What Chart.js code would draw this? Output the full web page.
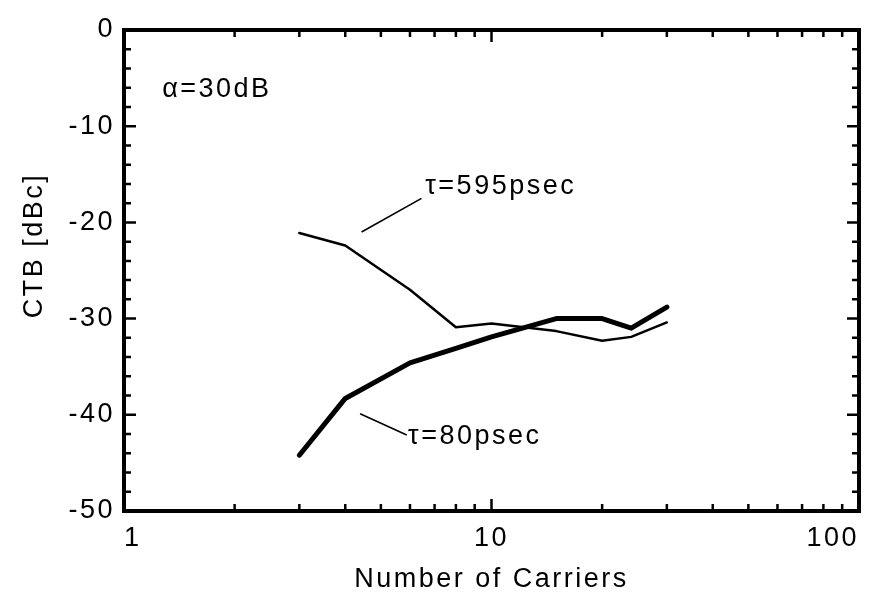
<!DOCTYPE html>
<html>
<head>
<meta charset="utf-8">
<script src="https://cdn.jsdelivr.net/npm/chart.js@4/dist/chart.umd.min.js"></script>
<style>
  html, body { margin: 0; padding: 0; background: #fff; overflow: hidden; }
  #wrap { width: 871px; height: 599px; }
</style>
</head>
<body>
<div id="wrap"><canvas id="ctbChart" width="871" height="599"></canvas></div>
<script>
// number of carriers (x, log scale)
const carriers = [3, 4, 6, 8, 10, 15, 20, 24, 30];
// CTB in dBc
const ctb595 = [-21.1, -22.4, -27.0, -30.9, -30.5, -31.3, -32.3, -31.9, -30.4];
const ctb80 = [-44.2, -38.3, -34.6, -33.1, -31.9, -30.0, -30.0, -31.0, -28.8];
const xTickValues = [1, 10, 100];
const yTickValues = [0, -10, -20, -30, -40, -50];

const FONT = "'Liberation Sans', Arial, Helvetica, sans-serif";
const FSIZE = 27;

// text labels inside the plot, in data coordinates
const notes = [
  { text: 'α=30dB', x: 1.27, y: -6.2 },
  { text: 'τ=595psec', x: 6.6, y: -16.3, from: [4.43, -21.0], to: [6.45, -17.5] },
  { text: 'τ=80psec', x: 5.93, y: -42.3, from: [4.39, -39.9], to: [5.88, -42.1] }
];

function pts(ys) {
  return carriers.map((c, i) => ({ x: c, y: ys[i] }));
}

// frame + inward tick marks on all four sides
const framePlugin = {
  id: 'frame',
  beforeDraw(chart) {
    // the scanned figure has wide lettering
    chart.ctx.letterSpacing = '2.5px';
  },
  afterDraw(chart) {
    const { ctx, chartArea: a, scales } = chart;
    const xs = scales.x, ys = scales.y;
    ctx.save();
    ctx.strokeStyle = '#000';
    ctx.lineCap = 'butt';

    ctx.lineWidth = 2.5;
    ctx.beginPath();
    [1, 10].forEach(dec => {
      for (let m = 1; m < 10; m++) {
        if (m === 1 && dec === 1) continue;
        const px = xs.getPixelForValue(dec * m);
        const len = m === 1 ? 12 : 7;
        ctx.moveTo(px, a.bottom); ctx.lineTo(px, a.bottom - len);
        ctx.moveTo(px, a.top); ctx.lineTo(px, a.top + len);
      }
    });
    for (let v = -48; v < 0; v += 2) {
      const py = ys.getPixelForValue(v);
      const len = v % 10 === 0 ? 12 : 7;
      ctx.moveTo(a.left, py); ctx.lineTo(a.left + len, py);
      ctx.moveTo(a.right, py); ctx.lineTo(a.right - len, py);
    }
    ctx.stroke();

    ctx.lineWidth = 4;
    ctx.strokeRect(a.left, a.top, a.right - a.left, a.bottom - a.top);

    // annotations
    ctx.fillStyle = '#000';
    ctx.font = FSIZE + 'px ' + FONT;
    ctx.textBaseline = 'middle';
    ctx.textAlign = 'left';
    ctx.lineWidth = 1.6;
    notes.forEach(n => {
      ctx.fillText(n.text, xs.getPixelForValue(n.x), ys.getPixelForValue(n.y));
      if (n.from) {
        ctx.beginPath();
        ctx.moveTo(xs.getPixelForValue(n.from[0]), ys.getPixelForValue(n.from[1]));
        ctx.lineTo(xs.getPixelForValue(n.to[0]), ys.getPixelForValue(n.to[1]));
        ctx.stroke();
      }
    });
    ctx.restore();
  }
};

new Chart(document.getElementById('ctbChart'), {
  type: 'line',
  data: {
    datasets: [
      {
        label: 'τ=595psec',
        data: pts(ctb595),
        borderColor: '#000',
        borderWidth: 2.5,
        pointRadius: 0,
        tension: 0,
        borderJoinStyle: 'round',
        borderCapStyle: 'round'
      },
      {
        label: 'τ=80psec',
        data: pts(ctb80),
        borderColor: '#000',
        borderWidth: 5,
        pointRadius: 0,
        tension: 0,
        borderJoinStyle: 'round',
        borderCapStyle: 'round'
      }
    ]
  },
  options: {
    responsive: false,
    animation: false,
    layout: { padding: { top: 30, right: 12, left: 0, bottom: 0 } },
    plugins: {
      legend: { display: false },
      tooltip: { enabled: false }
    },
    scales: {
      x: {
        type: 'logarithmic',
        min: 1,
        max: 100,
        afterBuildTicks(scale) { scale.ticks = xTickValues.map(v => ({ value: v })); },
        afterFit(scale) { scale.height = 88; },
        grid: { display: false, drawTicks: false },
        border: { display: false },
        ticks: {
          color: '#000',
          font: { family: FONT, size: FSIZE },
          padding: 11,
          maxRotation: 0,
          autoSkip: false,
          align: 'inner',
          callback: v => String(v)
        },
        title: {
          display: true,
          text: 'Number of Carriers',
          color: '#000',
          font: { family: FONT, size: FSIZE },
          padding: { top: 0, bottom: 3 }
        }
      },
      y: {
        min: -50,
        max: 0,
        afterBuildTicks(scale) { scale.ticks = yTickValues.map(v => ({ value: v })); },
        afterFit(scale) { scale.width = 124; },
        grid: { display: false, drawTicks: false },
        border: { display: false },
        ticks: {
          color: '#000',
          font: { family: FONT, size: FSIZE },
          padding: 9
        },
        title: {
          display: true,
          text: '\u00a0\u00a0\u00a0\u00a0\u00a0CTB [dBc]',
          color: '#000',
          font: { family: FONT, size: FSIZE },
          padding: { top: 18, bottom: 0 }
        }
      }
    }
  },
  plugins: [framePlugin]
});
</script>
</body>
</html>
